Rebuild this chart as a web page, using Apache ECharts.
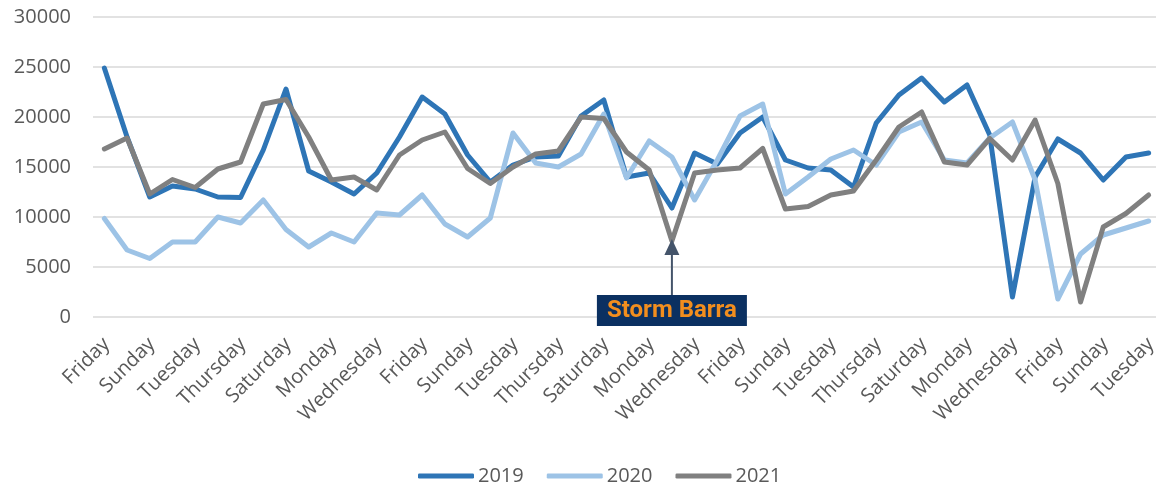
<!DOCTYPE html>
<html>
<head>
<meta charset="utf-8">
<script src="https://cdn.jsdelivr.net/npm/echarts@6/dist/echarts.min.js"></script>
<style>
  html, body { margin: 0; padding: 0; background: #fff; }
  #chart { width: 1156px; height: 489px; }
</style>
</head>
<body>
<div id="chart"></div>
<script>
// 47 days, starting on a Friday
const weekdays = ['Friday', 'Saturday', 'Sunday', 'Monday', 'Tuesday', 'Wednesday', 'Thursday'];
const days = [];
for (let i = 0; i < 47; i++) days.push(weekdays[i % 7]);

const seriesNames = ['2019', '2020', '2021'];

const values2019 = [
  24900, 18000, 12000, 13100, 12800, 12000, 11950, 16700, 22800, 14600,
  13500, 12300, 14400, 18000, 22000, 20300, 16200, 13500, 15200, 16000,
  16100, 20100, 21700, 14000, 14400, 10900, 16400, 15300, 18400, 20000,
  15700, 14900, 14700, 13000, 19400, 22200, 23900, 21500, 23200, 18200,
  2000, 14000, 17800, 16400, 13700, 16000, 16400
];
const values2020 = [
  9850, 6700, 5850, 7500, 7500, 10000, 9400, 11700, 8750, 7000,
  8400, 7500, 10400, 10200, 12200, 9300, 8000, 9900, 18400, 15400,
  15000, 16300, 20300, 13900, 17600, 16000, 11700, 15700, 20100, 21300,
  12300, 14000, 15800, 16700, 15200, 18500, 19500, 15700, 15400, 17900,
  19500, 13700, 1800, 6300, 8200, 8900, 9600
];
const values2021 = [
  16800, 17900, 12300, 13750, 12950, 14800, 15500, 21300, 21750, 18000,
  13700, 14000, 12700, 16200, 17700, 18500, 14850, 13350, 15000, 16300,
  16600, 20000, 19850, 16500, 14700, 7600, 14400, 14700, 14900, 16850,
  10800, 11050, 12200, 12600, 15700, 19000, 20500, 15500, 15200, 17850,
  15700, 19700, 13350, 1500, 9000, 10350, 12200
];

const stormIndex = 25;
const stormLabel = 'Storm Barra';

const colors = ['#2E75B6', '#9DC3E6', '#808080'];
const allValues = [values2019, values2020, values2021];

const chart = echarts.init(document.getElementById('chart'));

const option = {
  animation: false,
  color: colors,
  grid: { left: 93, top: 17, width: 1067, height: 300, outerBoundsMode: 'none', containLabel: false },
  legend: {
    data: seriesNames,
    left: 413,
    top: 461,
    icon: 'roundRect',
    itemWidth: 56,
    itemHeight: 5,
    itemGap: 23,
    textStyle: { fontFamily: 'Open Sans', fontSize: 20, color: '#595959', padding: [0, 0, 0, -1] }
  },
  xAxis: {
    type: 'category',
    data: days,
    boundaryGap: true,
    axisLine: { show: false },
    axisTick: { show: false },
    axisLabel: {
      interval: 1,
      rotate: 45,
      margin: 12,
      padding: [0, 7, 0, 0],
      verticalAlign: 'top',
      fontFamily: 'Open Sans',
      fontSize: 20,
      color: '#595959'
    }
  },
  yAxis: {
    type: 'value',
    min: 0,
    max: 30000,
    interval: 5000,
    axisLine: { show: false },
    axisTick: { show: false },
    axisLabel: {
      margin: 22,
      fontFamily: 'Open Sans',
      fontSize: 20,
      color: '#595959',
      formatter: v => String(v)
    },
    splitLine: { lineStyle: { color: '#D9D9D9', width: 1.5 } }
  },
  series: seriesNames.map((name, k) => ({
    name: name,
    type: 'line',
    data: allValues[k],
    symbol: 'none',
    lineStyle: { width: 5, color: colors[k], cap: 'round', join: 'round' }
  }))
};

chart.setOption(option);

// storm annotation, anchored to the 2021 dip
const tip = chart.convertToPixel({ gridIndex: 0 }, [stormIndex, values2021[stormIndex]]);
const boxTop = 295;
chart.setOption({
  graphic: [
    {
      type: 'line',
      shape: { x1: tip[0], y1: boxTop, x2: tip[0], y2: tip[1] + 12 },
      style: { stroke: '#44546A', lineWidth: 2 },
      z: 10
    },
    {
      type: 'polygon',
      shape: { points: [[tip[0], tip[1] - 2], [tip[0] - 7.5, tip[1] + 14], [tip[0] + 7.5, tip[1] + 14]] },
      style: { fill: '#44546A' },
      z: 10
    },
    {
      type: 'rect',
      shape: { x: tip[0] - 75, y: boxTop, width: 150, height: 31 },
      style: { fill: '#0B3061' },
      z: 10
    },
    {
      type: 'text',
      x: tip[0],
      y: boxTop + 16,
      style: {
        text: stormLabel,
        fill: '#F28E1E',
        font: 'bold 24px Roboto',
        align: 'center',
        verticalAlign: 'middle'
      },
      z: 11
    }
  ]
});
</script>
</body>
</html>
